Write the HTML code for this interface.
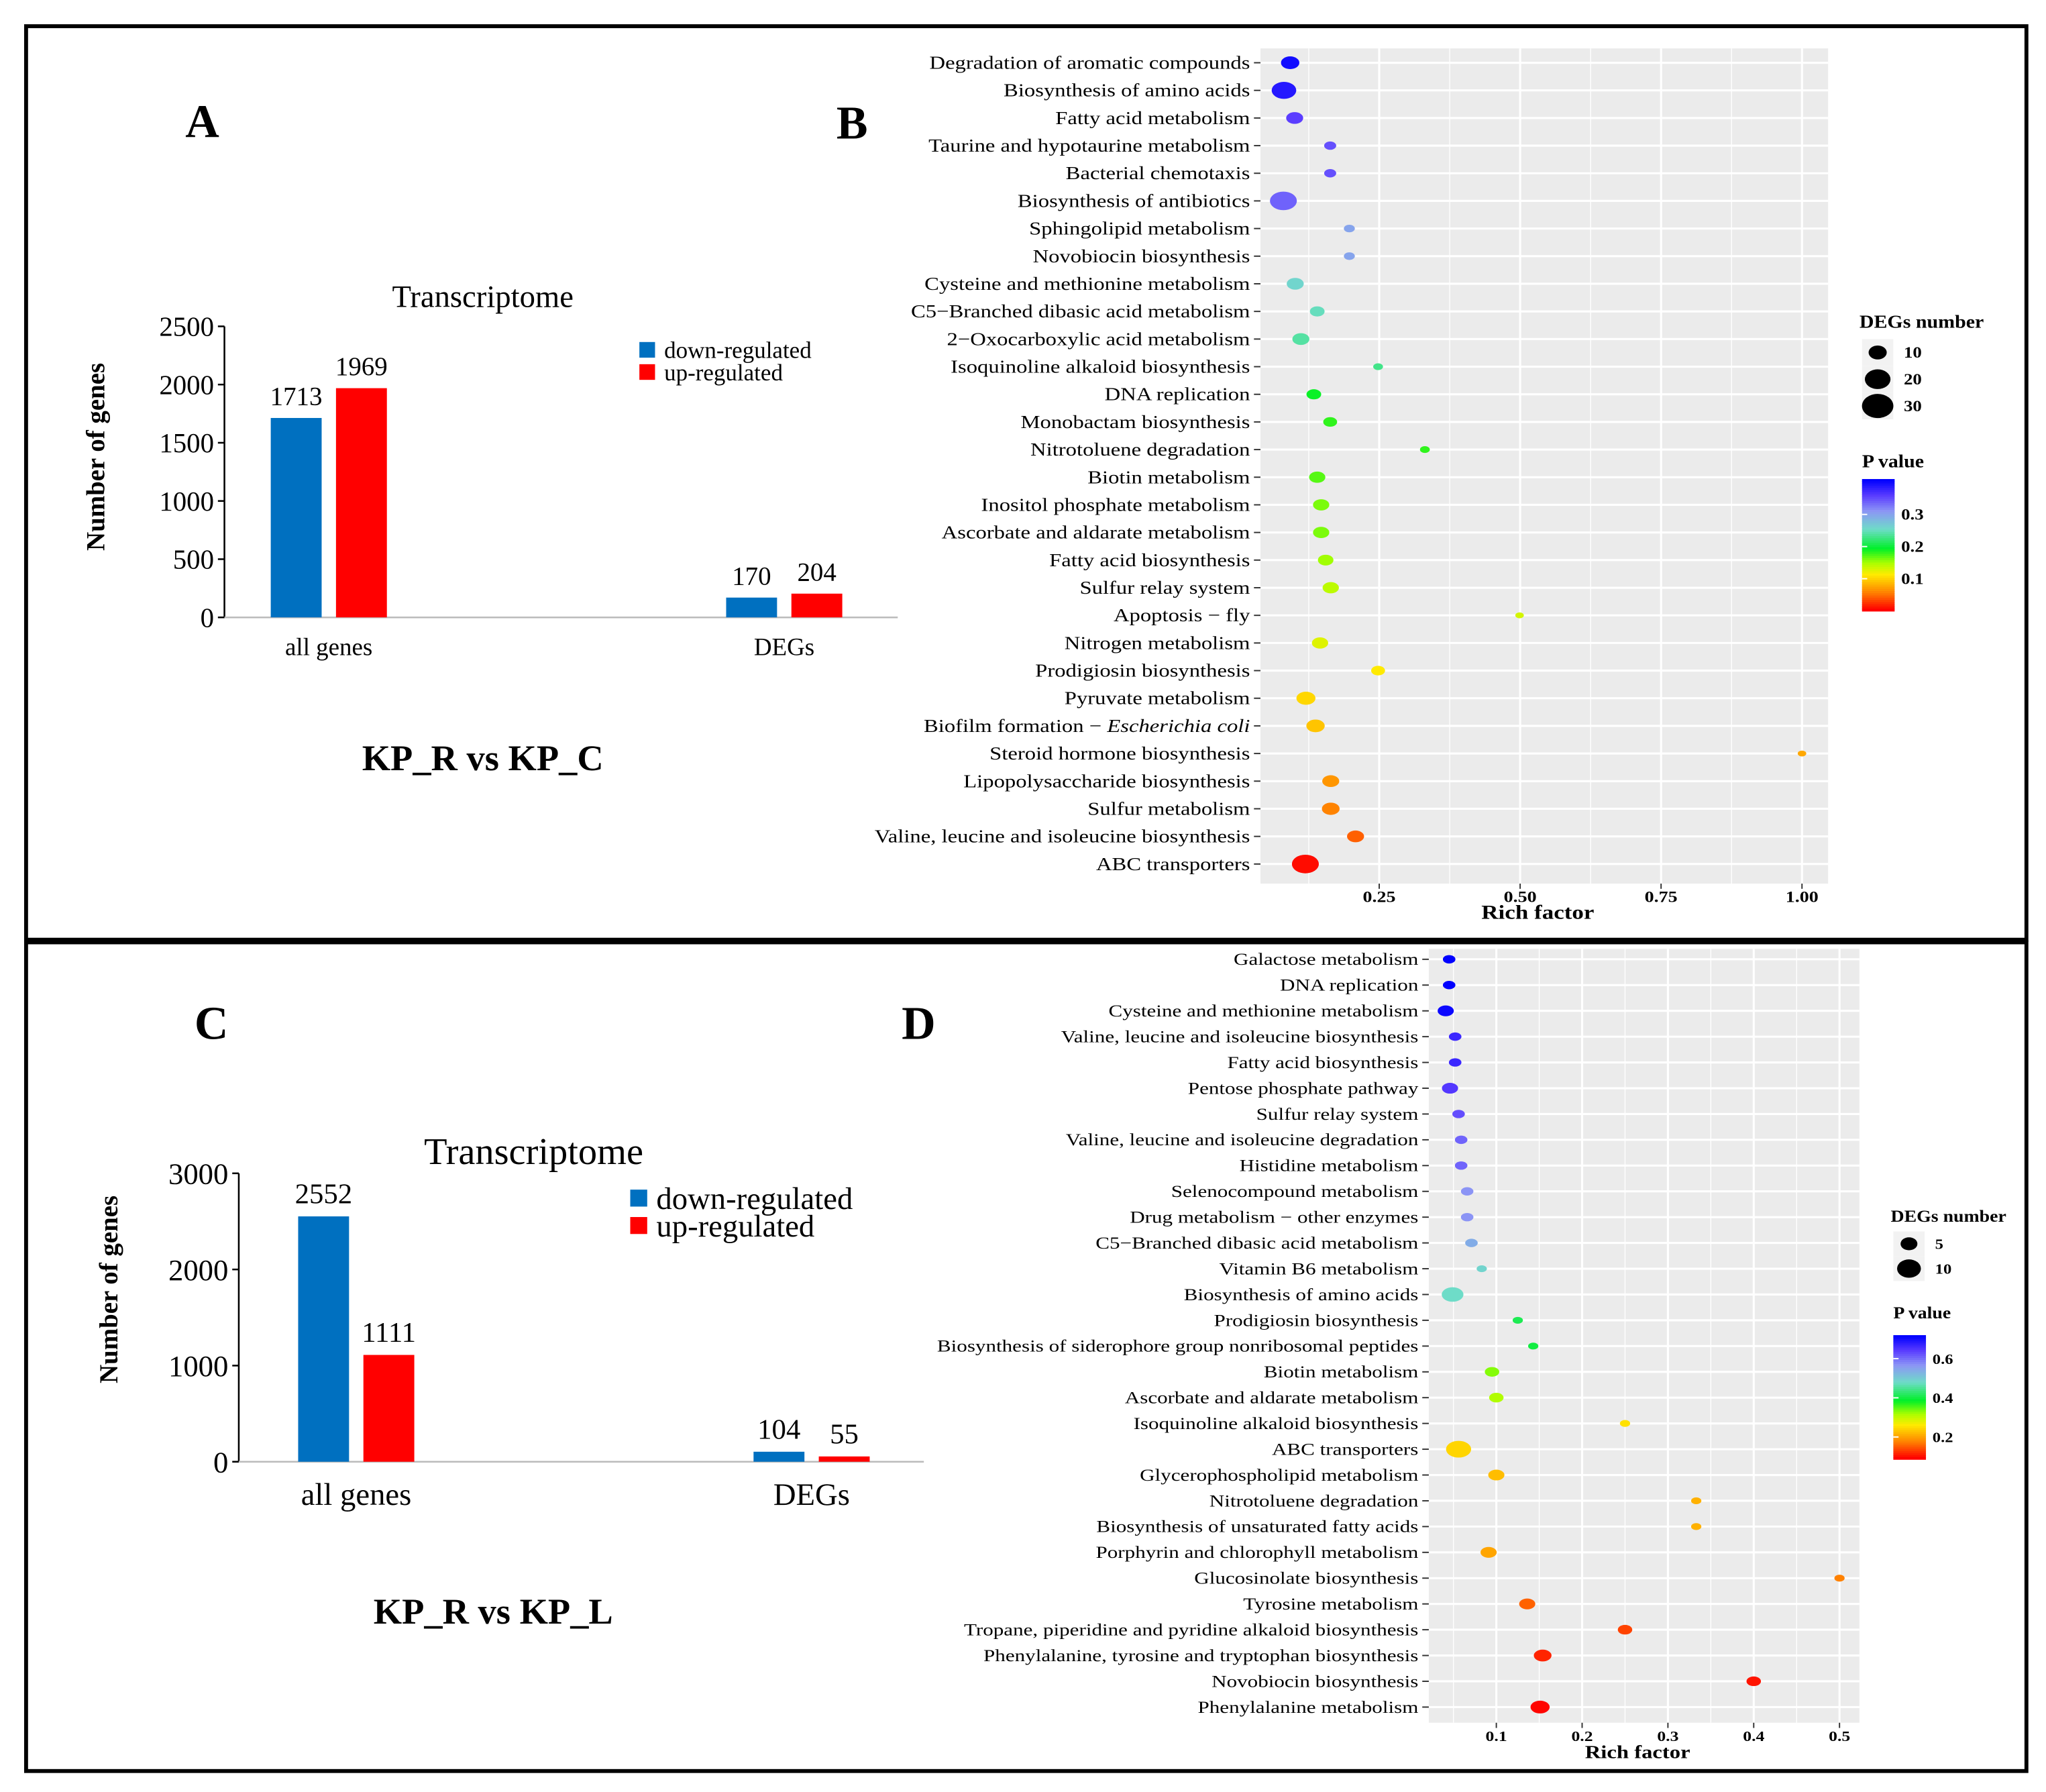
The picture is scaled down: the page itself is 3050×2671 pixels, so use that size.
<!DOCTYPE html>
<html><head><meta charset="utf-8"><style>
html,body{margin:0;padding:0;background:#fff;}
svg, svg text{font-family:"Liberation Serif","Times New Roman",serif;}
svg{display:block;}
</style></head><body>
<svg id="root" width="3050" height="2671" viewBox="0 0 1568 1373" xmlns="http://www.w3.org/2000/svg">
<rect x="0" y="0" width="1568" height="1373" fill="#fff"/>
<rect x="20" y="20" width="1533" height="700" fill="none" stroke="#000" stroke-width="3"/>
<rect x="20" y="722" width="1533" height="635" fill="none" stroke="#000" stroke-width="3"/>
<text x="155" y="105" font-size="36" font-weight="bold" text-anchor="middle">A</text>
<text x="653" y="106" font-size="36" font-weight="bold" text-anchor="middle">B</text>
<text x="162" y="796" font-size="36" font-weight="bold" text-anchor="middle">C</text>
<text x="704" y="796" font-size="36" font-weight="bold" text-anchor="middle">D</text>
<g id="gA"></g><g id="gC"></g><g id="gB"></g><g id="gD"></g>
</svg>
<script>
// ---------- Panel A data ----------
const catsA = ["all genes","DEGs"];
const downA = [1713,170];
const upA = [1969,204];
const ticksA = [0,500,1000,1500,2000,2500];
// ---------- Panel C data ----------
const catsC = ["all genes","DEGs"];
const downC = [2552,104];
const upC = [1111,55];
const ticksC = [0,1000,2000,3000];
// ---------- Panel B data ----------
const pathB = ["Degradation of aromatic compounds","Biosynthesis of amino acids","Fatty acid metabolism","Taurine and hypotaurine metabolism","Bacterial chemotaxis","Biosynthesis of antibiotics","Sphingolipid metabolism","Novobiocin biosynthesis","Cysteine and methionine metabolism","C5\u2212Branched dibasic acid metabolism","2\u2212Oxocarboxylic acid metabolism","Isoquinoline alkaloid biosynthesis","DNA replication","Monobactam biosynthesis","Nitrotoluene degradation","Biotin metabolism","Inositol phosphate metabolism","Ascorbate and aldarate metabolism","Fatty acid biosynthesis","Sulfur relay system","Apoptosis \u2212 fly","Nitrogen metabolism","Prodigiosin biosynthesis","Pyruvate metabolism","Biofilm formation \u2212 Escherichia coli","Steroid hormone biosynthesis","Lipopolysaccharide biosynthesis","Sulfur metabolism","Valine, leucine and isoleucine biosynthesis","ABC transporters"];
const richB = [0.092,0.081,0.100,0.163,0.163,0.080,0.197,0.197,0.101,0.140,0.111,0.248,0.134,0.163,0.331,0.140,0.147,0.147,0.155,0.164,0.499,0.145,0.248,0.120,0.137,1.0,0.164,0.164,0.208,0.119];
const countB = [14,25,12,6,6,30,5,5,12,9,12,4,9,8,4,11,11,11,10,11,3,11,8,15,14,3,12,13,12,30];
const pB = [0.40,0.39,0.36,0.35,0.35,0.34,0.30,0.30,0.26,0.25,0.24,0.23,0.19,0.18,0.18,0.17,0.16,0.16,0.15,0.14,0.13,0.125,0.11,0.10,0.09,0.075,0.065,0.055,0.04,0.005];
const xTicksB = [0.25,0.50,0.75,1.00];
const xTickLabB = ["0.25","0.50","0.75","1.00"];
const sizeLegB = [10,20,30];
const pTicksB = [0.1,0.2,0.3];
// ---------- Panel D data ----------
const pathD = ["Galactose metabolism","DNA replication","Cysteine and methionine metabolism","Valine, leucine and isoleucine biosynthesis","Fatty acid biosynthesis","Pentose phosphate pathway","Sulfur relay system","Valine, leucine and isoleucine degradation","Histidine metabolism","Selenocompound metabolism","Drug metabolism \u2212 other enzymes","C5\u2212Branched dibasic acid metabolism","Vitamin B6 metabolism","Biosynthesis of amino acids","Prodigiosin biosynthesis","Biosynthesis of siderophore group nonribosomal peptides","Biotin metabolism","Ascorbate and aldarate metabolism","Isoquinoline alkaloid biosynthesis","ABC transporters","Glycerophospholipid metabolism","Nitrotoluene degradation","Biosynthesis of unsaturated fatty acids","Porphyrin and chlorophyll metabolism","Glucosinolate biosynthesis","Tyrosine metabolism","Tropane, piperidine and pyridine alkaloid biosynthesis","Phenylalanine, tyrosine and tryptophan biosynthesis","Novobiocin biosynthesis","Phenylalanine metabolism"];
const richD = [0.045,0.045,0.041,0.052,0.052,0.046,0.056,0.059,0.059,0.066,0.066,0.071,0.083,0.049,0.125,0.143,0.095,0.100,0.250,0.056,0.100,0.333,0.333,0.091,0.500,0.136,0.250,0.154,0.400,0.151];
const countD = [3,3,5,3,3,5,3,3,3,3,3,3,2,9,2,2,4,4,2,12,5,2,2,5,2,5,4,6,4,7];
const pD = [0.72,0.72,0.71,0.67,0.67,0.65,0.63,0.61,0.61,0.57,0.57,0.54,0.49,0.48,0.41,0.40,0.33,0.31,0.25,0.24,0.22,0.21,0.21,0.20,0.17,0.15,0.13,0.11,0.10,0.09];
const xTicksD = [0.1,0.2,0.3,0.4,0.5];
const xTickLabD = ["0.1","0.2","0.3","0.4","0.5"];
const sizeLegD = [5,10];
const pTicksD = [0.2,0.4,0.6];

const NS="http://www.w3.org/2000/svg";
function mk(parent,tag,attrs,text){const e=document.createElementNS(NS,tag);for(const k in attrs)e.setAttribute(k,attrs[k]);if(text!==undefined)e.textContent=text;parent.appendChild(e);return e;}

const STOPS=[[0,[255,0,0]],[0.13,[255,128,0]],[0.27,[255,235,0]],[0.36,[170,255,0]],[0.47,[0,240,40]],[0.62,[110,220,200]],[0.76,[140,150,245]],[0.88,[90,60,255]],[1,[0,0,255]]];
function colT(t){t=Math.max(0,Math.min(1,t));for(let i=1;i<STOPS.length;i++){if(t<=STOPS[i][0]){const a=STOPS[i-1],b=STOPS[i];const f=(t-a[0])/(b[0]-a[0]);const c=a[1].map((v,j)=>Math.round(v+(b[1][j]-v)*f));return `rgb(${c[0]},${c[1]},${c[2]})`;}}return "rgb(0,0,255)";}

// stretched text helper (reference text is horizontally wide)
function stext(parent,x,y,sx,attrs,txt){
  const a=Object.assign({},attrs);a.x=0;a.y=0;a.transform=`translate(${x},${y}) scale(${sx},1)`;
  return mk(parent,'text',a,txt);
}

// ---------- bar chart ----------
function barChart(gid,cats,down,up,ticks,cfg){
  const g=document.getElementById(gid);
  const y=v=>cfg.y0-(v-ticks[0])/(ticks[ticks.length-1]-ticks[0])*(cfg.y0-cfg.yTop);
  const ax=mk(g,'line',{x1:cfg.ax,y1:cfg.yTop,x2:cfg.ax,y2:cfg.y0,stroke:'#000','stroke-width':1.3});
   
  const xl=mk(g,'line',{x1:cfg.ax,y1:cfg.y0,x2:cfg.axEnd,y2:cfg.y0,stroke:'#bbb','stroke-width':1.3});
   
  ticks.forEach(t=>{
    const tk=mk(g,'line',{x1:cfg.ax-5,y1:y(t),x2:cfg.ax,y2:y(t),stroke:'#000','stroke-width':1.3});
     
    const tl=mk(g,'text',{x:cfg.ax-8,y:y(t)+cfg.tfs2*0.35,'font-size':cfg.tfs2,'text-anchor':'end'},String(t));
     
  });
  cats.forEach((c,i)=>{
    const cx=cfg.cx[i];
    [[down[i],'#0070c0',-1],[up[i],'#ff0000',1]].forEach(([v,col,s])=>{
      const x=s<0?cx-cfg.bw-cfg.gap/2:cx+cfg.gap/2;
      const r=mk(g,'rect',{x:x,y:y(v),width:cfg.bw,height:cfg.y0-y(v),fill:col});
       
      const vl=mk(g,'text',{x:x+cfg.bw/2,y:y(v)-10,'font-size':cfg.vfs,'text-anchor':'middle'},String(v));
       
    });
    const cl=mk(g,'text',{x:cx,y:cfg.catY,'font-size':cfg.cfs,'text-anchor':'middle'},c);
     
  });
  const t=mk(g,'text',{x:cfg.titleX,y:cfg.titleY,'font-size':cfg.tfs,'text-anchor':'middle'},'Transcriptome');
   
  const yt=mk(g,'text',{x:0,y:0,'font-size':cfg.yfs,'font-weight':'bold','text-anchor':'middle',transform:`translate(${cfg.ytX},${cfg.ytY}) rotate(-90)`},'Number of genes');
   
  [['down-regulated','#0070c0',0],['up-regulated','#ff0000',1]].forEach(([lab,col,k])=>{
    const ly=cfg.legY+k*cfg.legDy;
    const sw=mk(g,'rect',{x:cfg.legX,y:ly-cfg.sq/2,width:cfg.sq,height:cfg.sq,fill:col});
     
    const lt=mk(g,'text',{x:cfg.legX+cfg.sq+7,y:ly+cfg.lfs*0.35,'font-size':cfg.lfs},lab);
     
  });
  const cp=mk(g,'text',{x:cfg.cmpX,y:cfg.cmpY,'font-size':cfg.cmpFs,'font-weight':'bold','text-anchor':'middle'},cfg.cmp);
   
}
barChart('gA',catsA,downA,upA,ticksA,{y0:473,yTop:250,ax:172,axEnd:688,cx:[252,601],bw:39,gap:11,tfs2:21,vfs:20,cfs:19,catY:502,titleX:370,titleY:235,tfs:24,yfs:20,ytX:80,ytY:350,legX:490,legY:268,legDy:17,sq:12,lfs:18,cmpX:370,cmpY:590,cmpFs:28,cmp:'KP_R vs KP_C'});
barChart('gC',catsC,downC,upC,ticksC,{y0:1120,yTop:899,ax:183,axEnd:708,cx:[273,622],bw:39,gap:11,tfs2:23,vfs:22,cfs:24,catY:1153,titleX:409,titleY:892,tfs:29,yfs:20,ytX:90,ytY:988,legX:483,legY:918,legDy:21,sq:13,lfs:24,cmpX:378,cmpY:1244,cmpFs:28,cmp:'KP_R vs KP_L'});

// ---------- bubble chart ----------
function bubble(gid,paths,rich,cnt,pv,xt,xtl,cfg,sizeLeg,pTicks){
  const g=document.getElementById(gid);
  const X=v=>cfg.x0+v*cfg.kx;
  const n=paths.length;
  const Y=i=>cfg.yFirst+i*(cfg.yLast-cfg.yFirst)/(n-1);
  const bg=mk(g,'rect',{x:cfg.L,y:cfg.T,width:cfg.R-cfg.L,height:cfg.B-cfg.T,fill:'#ebebeb'});
   
  const step=xt[1]-xt[0];
  for(let v=xt[0]-step/2; X(v)<cfg.R; v+=step/2){
    if(X(v)<cfg.L) continue;
    const major=Math.abs(((v-xt[0])/step)-Math.round((v-xt[0])/step))<1e-6;
    const gl=mk(g,'line',{x1:X(v),y1:cfg.T,x2:X(v),y2:cfg.B,stroke:'#fff','stroke-width':major?1.6:0.7});
     
  }
  paths.forEach((p,i)=>{
    const gl=mk(g,'line',{x1:cfg.L,y1:Y(i),x2:cfg.R,y2:Y(i),stroke:'#fff','stroke-width':1.6});
     
    const tk=mk(g,'line',{x1:cfg.L-5,y1:Y(i),x2:cfg.L,y2:Y(i),stroke:'#333','stroke-width':1});
     
    const lab=stext(g,cfg.L-8,Y(i)+cfg.fs*0.33,cfg.sx,{'font-size':cfg.fs,'text-anchor':'end'});
     
    const m=p.indexOf('Escherichia coli');
    if(m>=0){mk(lab,'tspan',{},p.slice(0,m));mk(lab,'tspan',{'font-style':'italic'},'Escherichia coli');}
    else lab.textContent=p;
  });
  const pr=v=>(v-cfg.pMin)/(cfg.pMax-cfg.pMin);
  paths.forEach((p,i)=>{
    const ry=cfg.k*Math.sqrt(cnt[i]);
    const d=mk(g,'ellipse',{cx:X(rich[i]),cy:Y(i),rx:ry*cfg.asp,ry:ry,fill:colT(pr(pv[i]))});
     
  });
  xt.forEach((v,i)=>{
    const tk=mk(g,'line',{x1:X(v),y1:cfg.B,x2:X(v),y2:cfg.B+4,stroke:'#333','stroke-width':1});
     
    const tl=stext(g,X(v),cfg.B+14,1.2,{'font-size':cfg.fs-2,'font-weight':'bold','text-anchor':'middle'},xtl[i]);
     
  });
  const xt2=stext(g,(cfg.L+cfg.R)/2-5,cfg.B+27,1.2,{'font-size':cfg.fs+1,'font-weight':'bold','text-anchor':'middle'},'Rich factor');
   
  // size legend
  const sl=stext(g,cfg.legX,cfg.sizeTitleY,1.1,{'font-size':cfg.fs,'font-weight':'bold'},'DEGs number');
   
  sizeLeg.forEach((s,i)=>{
    const cy=cfg.sizeY0+i*cfg.sizeDy;
    const bgk=mk(g,'rect',{x:cfg.legX+2,y:cy-cfg.sizeDy/2,width:24,height:cfg.sizeDy,fill:'#f2f2f2'});
     
    const ry=cfg.k*Math.sqrt(s)*cfg.legScale;
    const c=mk(g,'ellipse',{cx:cfg.legX+14,cy:cy,rx:ry*1.3,ry:ry,fill:'#000'});
     
    const t=stext(g,cfg.legX+34,cy+4,1.15,{'font-size':cfg.fs-2,'font-weight':'bold'},String(s));
     
  });
  const pt=stext(g,cfg.legX+2,cfg.pTitleY,1.1,{'font-size':cfg.fs,'font-weight':'bold'},'P value');
   
  const H=cfg.cbB-cfg.cbT;
  for(let j=0;j<60;j++){
    const r=mk(g,'rect',{x:cfg.legX+2,y:cfg.cbT+j*H/60,width:25,height:H/60+0.5,fill:colT(1-j/59)});
     
  }
  pTicks.forEach(v=>{
    const yy=cfg.cbB-pr(v)*H;
    const l=mk(g,'line',{x1:cfg.legX+2,y1:yy,x2:cfg.legX+6,y2:yy,stroke:'#fff','stroke-width':1});
     
    const t=stext(g,cfg.legX+32,yy+4,1.15,{'font-size':cfg.fs-2,'font-weight':'bold'},String(v));
     
  });
}
bubble('gB',pathB,richB,countB,pB,xTicksB,xTickLabB,{L:966,R:1401,T:37,B:677,x0:949,kx:432,yFirst:48,yLast:662,fs:14,sx:1.2,k:1.3,asp:1.45,pMin:0,pMax:0.41,legX:1425,sizeTitleY:251,sizeY0:270,sizeDy:20.5,legScale:1.3,pTitleY:358,cbT:367,cbB:468},sizeLegB,pTicksB);
bubble('gD',pathD,richD,countD,pD,xTicksD,xTickLabD,{L:1095,R:1425,T:727,B:1320,x0:1081,kx:657.5,yFirst:735,yLast:1308,fs:13,sx:1.23,k:1.85,asp:1.5,pMin:0.087,pMax:0.72,legX:1449,sizeTitleY:936,sizeY0:953,sizeDy:19,legScale:1.2,pTitleY:1010,cbT:1023,cbB:1118},sizeLegD,pTicksD);
</script>
</body></html>
